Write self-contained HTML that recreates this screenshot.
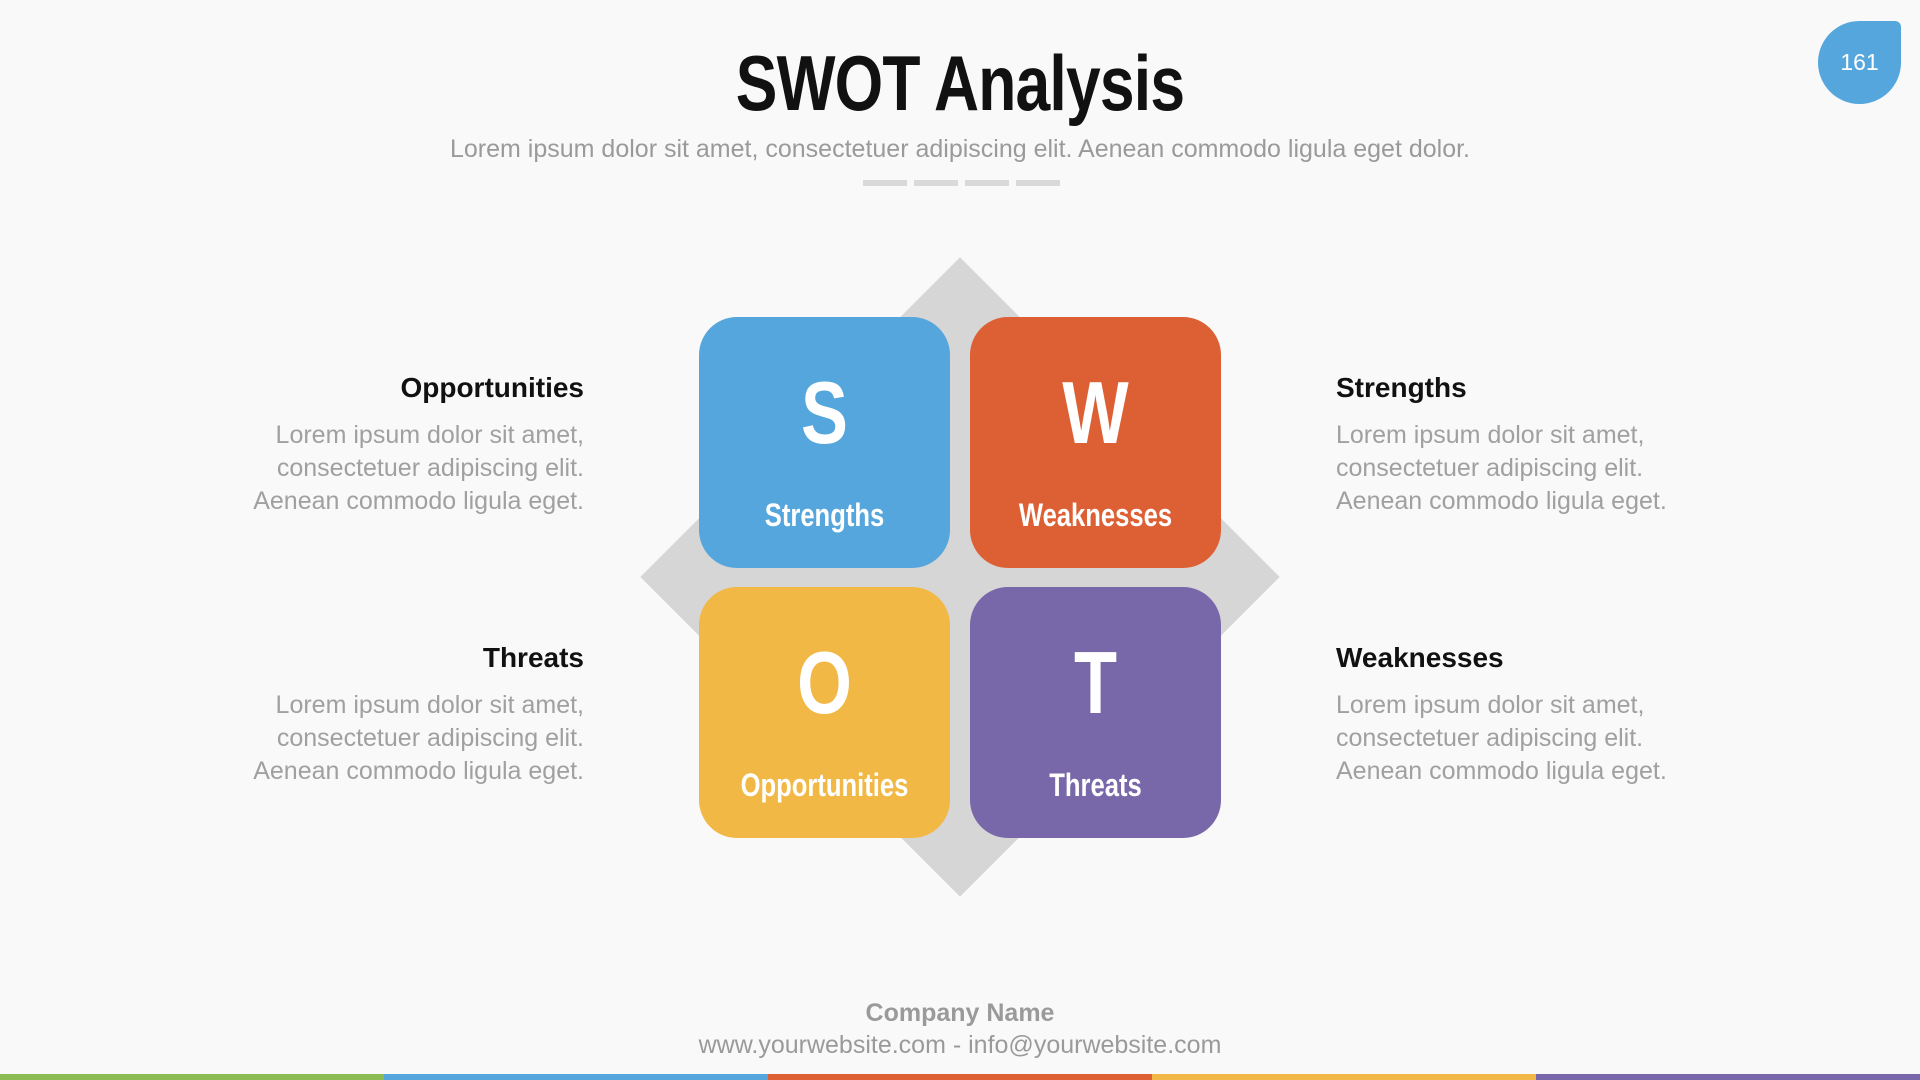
<!DOCTYPE html>
<html><head><meta charset="utf-8"><style>
*{margin:0;padding:0;box-sizing:border-box}
body{width:1920px;height:1080px;background:#f9f9f9;position:relative;overflow:hidden;font-family:"Liberation Sans",sans-serif}
.a{position:absolute}
.title{left:0;width:1920px;top:38px;text-align:center;font-size:78px;font-weight:bold;color:#111;transform:scaleX(.8);letter-spacing:-1px}
.sub{left:0;width:1920px;top:135px;text-align:center;font-size:25px;color:#9a9a9a}
.dash{top:180px;width:44px;height:6px;background:#d9d9d9}
.diamond{left:734px;top:351px;width:452px;height:452px;background:#d6d6d6;transform:rotate(45deg)}
.box{width:251px;height:251px;border-radius:38px;color:#fff;text-align:center}
.box .l{position:absolute;left:0;width:100%;top:45px;font-size:88px;font-weight:bold;transform:scaleX(.8)}
.box .n{position:absolute;left:0;width:100%;top:180px;font-size:32px;font-weight:bold;transform:scaleX(.8)}
.h{font-size:28px;font-weight:bold;color:#111}
.b{font-size:25px;color:#a0a0a0;line-height:33px}
.L{right:1336px;text-align:right}
.R{left:1336px}
.foot{left:0;width:1920px;text-align:center;color:#9a9a9a;font-size:25px}
.bar{top:1074px;height:6px;width:384px}
</style></head><body>
<div class="a title">SWOT Analysis</div>
<div class="a sub">Lorem ipsum dolor sit amet, consectetuer adipiscing elit. Aenean commodo ligula eget dolor.</div>
<div class="a dash" style="left:863px"></div><div class="a dash" style="left:914px"></div><div class="a dash" style="left:965px"></div><div class="a dash" style="left:1016px"></div>
<div class="a diamond"></div>
<div class="a box" style="left:699px;top:317px;background:#55a6dc"><div class="l">S</div><div class="n">Strengths</div></div>
<div class="a box" style="left:970px;top:317px;background:#dd6035"><div class="l">W</div><div class="n">Weaknesses</div></div>
<div class="a box" style="left:699px;top:587px;background:#f1b845"><div class="l">O</div><div class="n">Opportunities</div></div>
<div class="a box" style="left:970px;top:587px;background:#7867a9"><div class="l">T</div><div class="n">Threats</div></div>

<div class="a L h" style="top:372px">Opportunities</div>
<div class="a L b" style="top:419px">Lorem ipsum dolor sit amet,<br>consectetuer adipiscing elit.<br>Aenean commodo ligula eget.</div>
<div class="a L h" style="top:642px">Threats</div>
<div class="a L b" style="top:689px">Lorem ipsum dolor sit amet,<br>consectetuer adipiscing elit.<br>Aenean commodo ligula eget.</div>
<div class="a R h" style="top:372px">Strengths</div>
<div class="a R b" style="top:419px">Lorem ipsum dolor sit amet,<br>consectetuer adipiscing elit.<br>Aenean commodo ligula eget.</div>
<div class="a R h" style="top:642px">Weaknesses</div>
<div class="a R b" style="top:689px">Lorem ipsum dolor sit amet,<br>consectetuer adipiscing elit.<br>Aenean commodo ligula eget.</div>

<div class="a foot" style="top:999px;font-weight:bold">Company Name</div>
<div class="a foot" style="top:1031px">www.yourwebsite.com - info@yourwebsite.com</div>

<div class="a" style="left:1818px;top:21px;width:83px;height:83px;background:#55a6dc;border-radius:50% 6px 50% 50%;color:#fff;font-size:23px;text-align:center;line-height:83px">161</div>

<div class="a bar" style="left:0;background:#8bbb52"></div>
<div class="a bar" style="left:384px;background:#55a6dc"></div>
<div class="a bar" style="left:768px;background:#dd6035"></div>
<div class="a bar" style="left:1152px;background:#f1b845"></div>
<div class="a bar" style="left:1536px;background:#7867a9"></div>
</body></html>
